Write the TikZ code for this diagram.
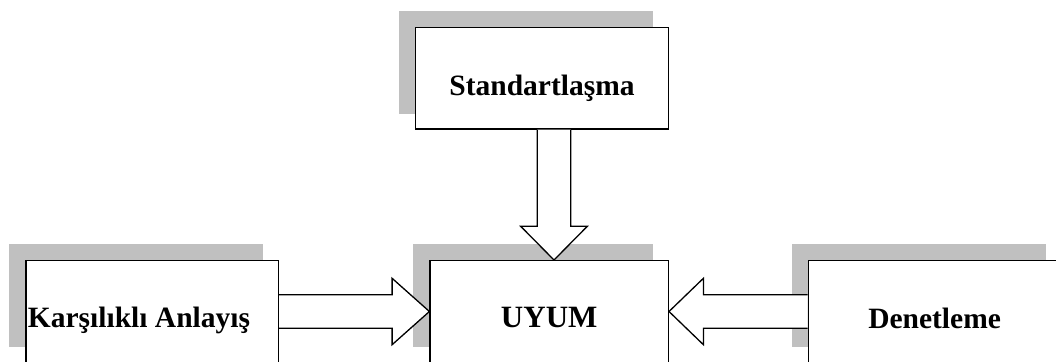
\documentclass[tikz,border=0pt]{standalone}
\usepackage{fontspec}
\setmainfont{Liberation Serif}
\usetikzlibrary{calc,backgrounds}
\definecolor{shadowgray}{RGB}{192,192,192}
\begin{document}
\begin{tikzpicture}[x=1pt,y=-1pt,
  box/.style={draw=black, fill=white, line width=1.3pt, inner sep=0pt, minimum height=101.7pt},
  boxtext/.style={font=\fontsize{29.5}{32}\selectfont\bfseries, inner sep=0pt},
  bigtext/.style={font=\fontsize{31}{34}\selectfont\bfseries, inner sep=0pt},
  blockarrow/.style={draw=black, fill=white, line width=1.3pt, line join=miter},
  boxshadow/.style={fill=shadowgray}]
\useasboundingbox (0,0) rectangle (1056,361);

% boxes
\node[box, minimum width=252.6pt] (st) at (542,78.2) {};
\node[box, minimum width=252.3pt] (ka) at (152.2,311.5) {};
\node[box, minimum width=238.3pt] (uy) at (549.2,311.5) {};
\node[box, minimum width=252.7pt] (de) at (934.6,311.5) {};

% labels
\node[boxtext, anchor=base] (stt) at ($(st.center)+(0,16.8)$) {Standartlaşma};
\node[boxtext, anchor=base west] (kat) at ($(ka.west)+(2.3,15.8)$) {Karşılıklı Anlayış};
\node[bigtext, anchor=base] (uyt) at ($(uy.center)+(0,15.8)$) {UYUM};
\node[boxtext, anchor=base] (det) at ($(de.center)+(0,16.8)$) {Denetleme};

% offset shadows behind the boxes
\begin{scope}[on background layer]
  \foreach \n in {st,ka,uy,de}
    \fill[boxshadow] ($(\n.north west)+(-16,-16)$) rectangle ($(\n.south east)+(-16,-16)$);
\end{scope}

% block arrow: Standartlaşma -> UYUM
\coordinate (tA) at ($(st.south)+(12,0)$);
\coordinate (tB) at ($(uy.north)+(4.8,0)$);
\draw[blockarrow] ($(tA)+(-16.8,0)$) -- ($(tA|-tB)+(-16.8,-33.7)$) -- ($(tA|-tB)+(-33.3,-33.7)$)
  -- (tB) -- ($(tA|-tB)+(33.3,-33.7)$) -- ($(tA|-tB)+(16.8,-33.7)$) -- ($(tA)+(16.8,0)$);

% block arrow: Karşılıklı Anlayış -> UYUM
\draw[blockarrow] ($(ka.east)+(0,-16.8)$) -- ($(uy.west)+(-37.3,-16.8)$) -- ($(uy.west)+(-37.3,-33.2)$)
  -- (uy.west) -- ($(uy.west)+(-37.3,33.2)$) -- ($(uy.west)+(-37.3,16.8)$) -- ($(ka.east)+(0,16.8)$);

% block arrow: Denetleme -> UYUM
\draw[blockarrow] ($(de.west)+(0,-16.8)$) -- ($(uy.east)+(34.4,-16.8)$) -- ($(uy.east)+(34.4,-33.2)$)
  -- (uy.east) -- ($(uy.east)+(34.4,33.2)$) -- ($(uy.east)+(34.4,16.8)$) -- ($(de.west)+(0,16.8)$);
\end{tikzpicture}
\end{document}
